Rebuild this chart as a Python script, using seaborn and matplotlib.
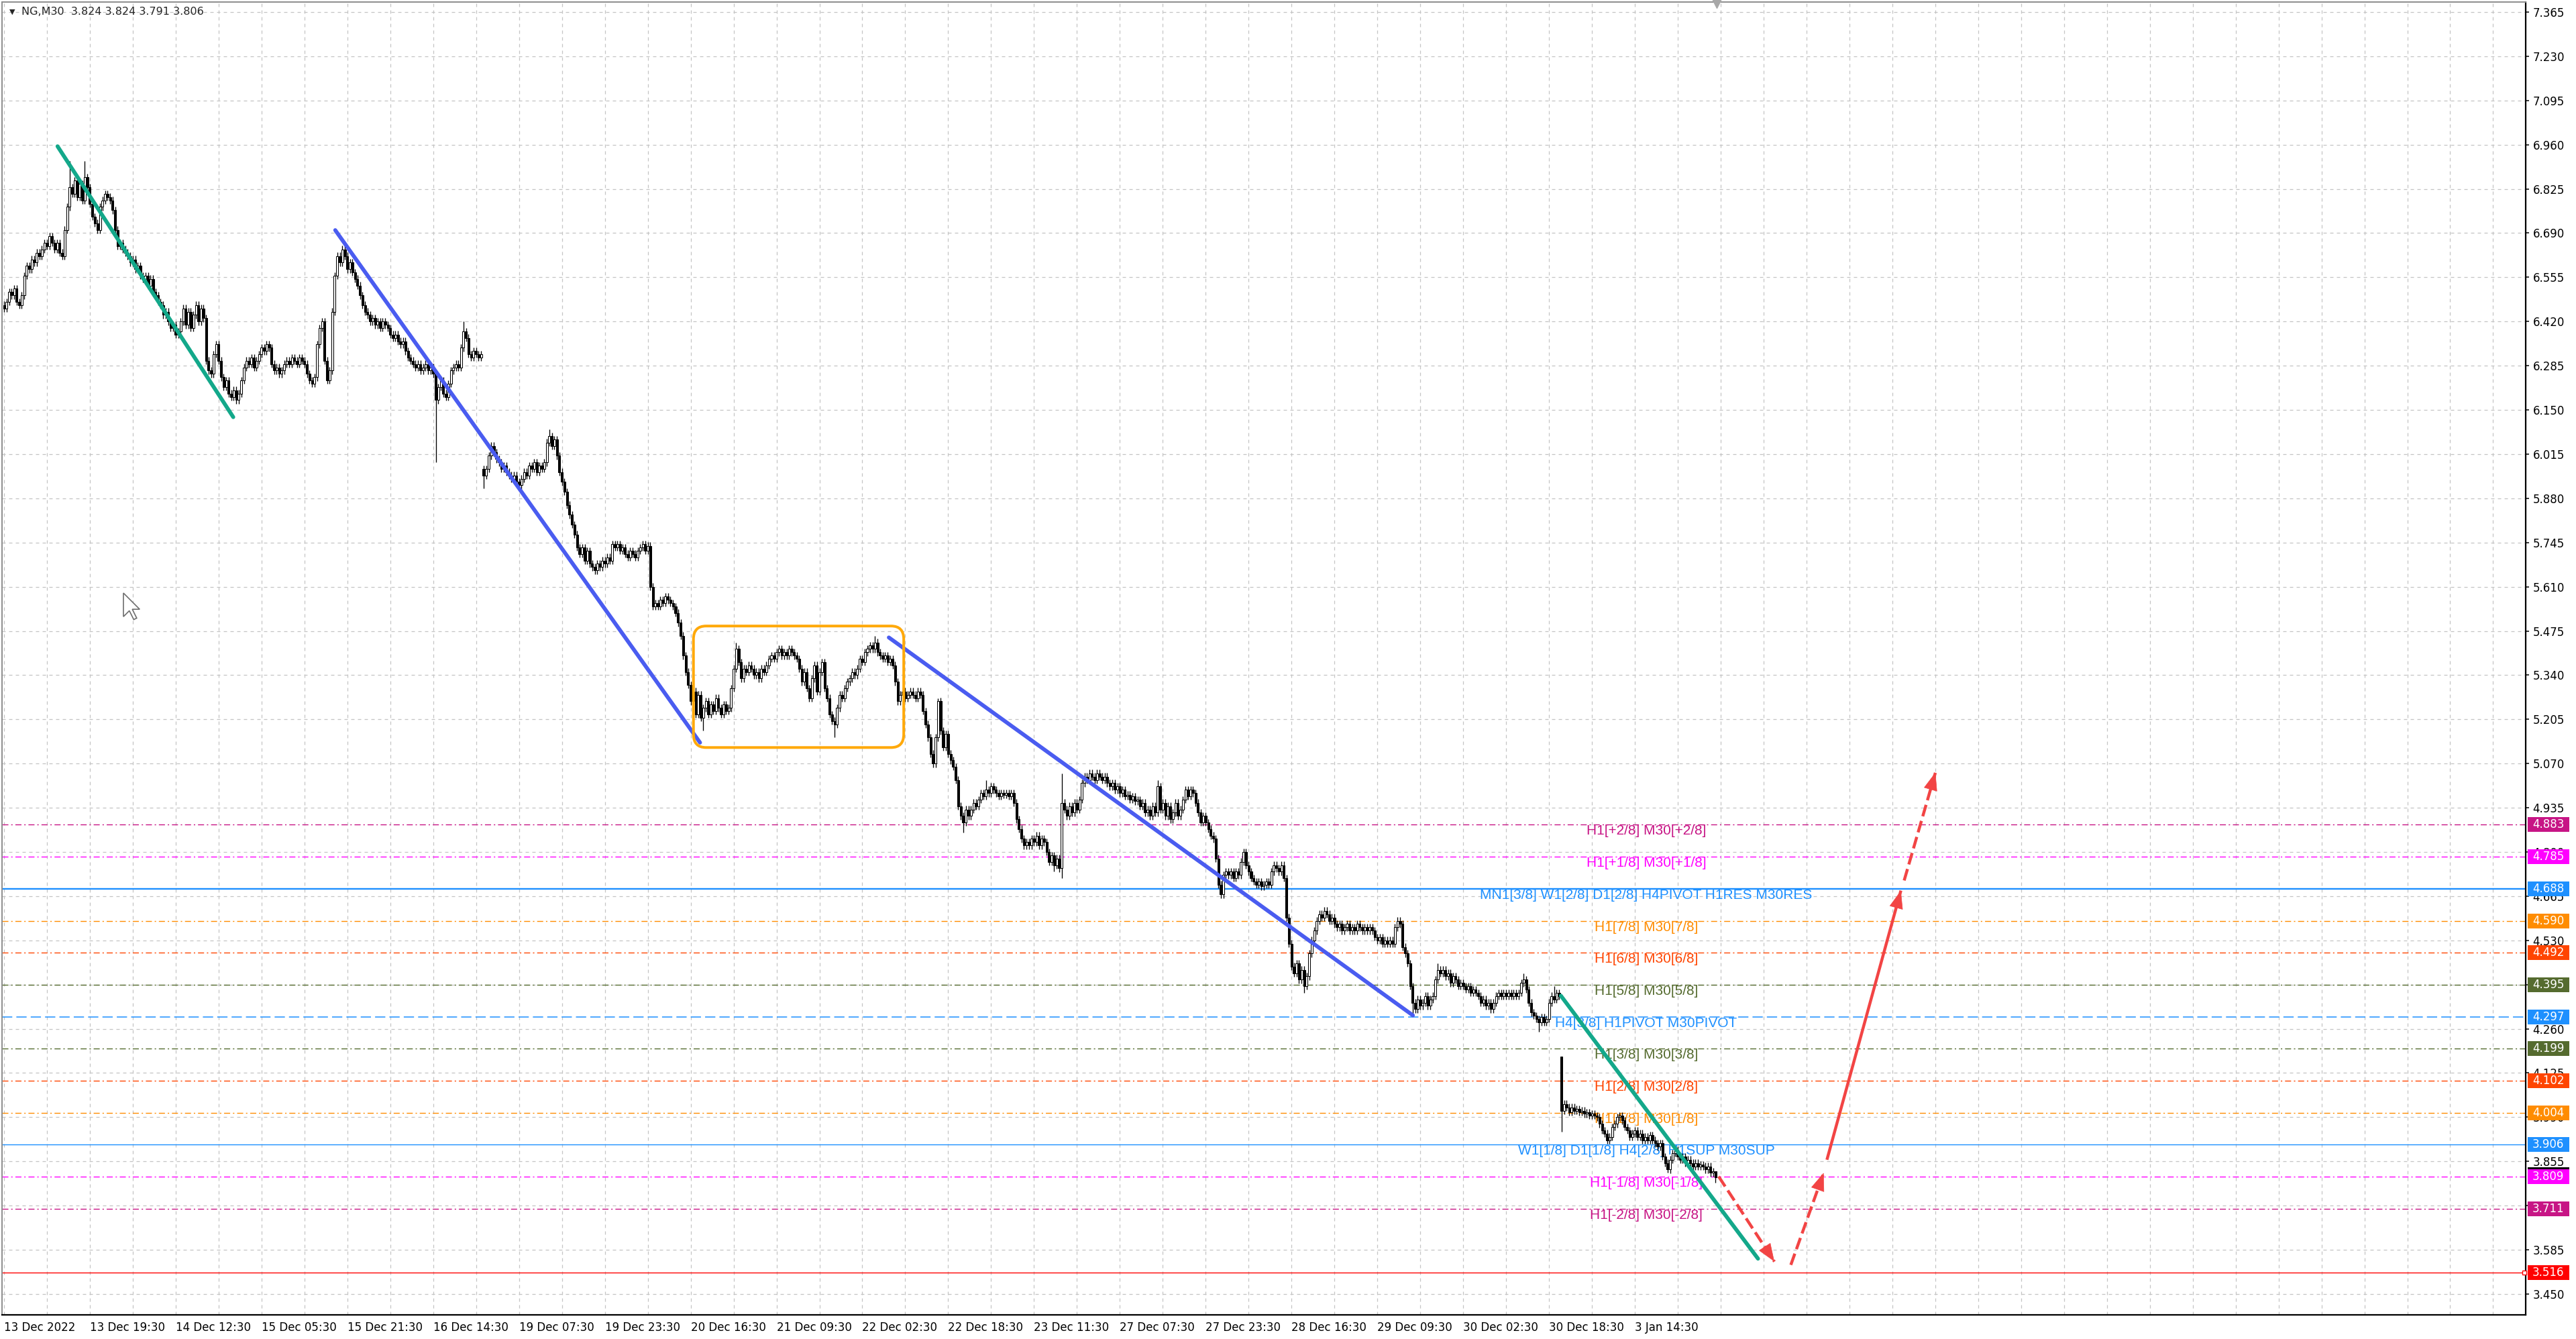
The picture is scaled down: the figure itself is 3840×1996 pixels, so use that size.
import matplotlib
matplotlib.use("Agg")
import matplotlib.pyplot as plt
import seaborn as sns
import numpy as np
import pandas as pd
from matplotlib import transforms, font_manager
from matplotlib.patches import Rectangle, FancyBboxPatch, FancyArrowPatch, Polygon

sns.set_style("white")
plt.rcParams['font.family'] = ['DejaVu Sans']

# ------------------------------------------------------------------ data
closes = [
    6.46, 6.48, 6.51, 6.50, 6.52, 6.48, 6.47, 6.50, 6.56, 6.59,   # 0
    6.58, 6.61, 6.60, 6.63, 6.62, 6.64, 6.66, 6.65, 6.68, 6.66,   # 10
    6.64, 6.66, 6.63, 6.62, 6.70, 6.77, 6.83, 6.81, 6.85, 6.80,   # 20
    6.84, 6.79, 6.86, 6.83, 6.78, 6.74, 6.72, 6.70, 6.77, 6.79,   # 30
    6.81, 6.80, 6.79, 6.76, 6.70, 6.65, 6.66, 6.64, 6.63, 6.62,   # 40
    6.60, 6.61, 6.58, 6.59, 6.56, 6.55, 6.56, 6.53, 6.55, 6.51,   # 50
    6.50, 6.48, 6.47, 6.44, 6.45, 6.42, 6.40, 6.41, 6.38, 6.39,   # 60
    6.42, 6.46, 6.41, 6.45, 6.40, 6.44, 6.47, 6.42, 6.46, 6.43,   # 70
    6.30, 6.27, 6.26, 6.32, 6.35, 6.30, 6.25, 6.22, 6.24, 6.20,   # 80
    6.19, 6.21, 6.18, 6.20, 6.24, 6.28, 6.30, 6.29, 6.31, 6.28,   # 90
    6.30, 6.32, 6.34, 6.33, 6.35, 6.34, 6.29, 6.27, 6.28, 6.26,   # 100
    6.27, 6.29, 6.30, 6.29, 6.31, 6.30, 6.29, 6.31, 6.30, 6.29,   # 110
    6.26, 6.24, 6.23, 6.25, 6.35, 6.40, 6.42, 6.30, 6.24, 6.27,   # 120
    6.45, 6.56, 6.62, 6.60, 6.64, 6.62, 6.58, 6.60, 6.57, 6.55,   # 130
    6.53, 6.50, 6.47, 6.45, 6.44, 6.42, 6.43, 6.41, 6.42, 6.40,   # 140
    6.42, 6.41, 6.40, 6.38, 6.37, 6.38, 6.36, 6.35, 6.36, 6.33,   # 150
    6.31, 6.30, 6.29, 6.28, 6.29, 6.27, 6.28, 6.29, 6.27, 6.28,   # 160
    6.26, 6.18, 6.22, 6.24, 6.20, 6.19, 6.23, 6.27, 6.28, 6.29,   # 170
    6.28, 6.34, 6.39, 6.37, 6.32, 6.31, 6.33, 6.32, 6.31, 6.32,   # 180
    5.95, 5.97, 6.01, 6.04, 6.02, 6.00, 5.99, 5.97, 5.98, 5.96,   # 190
    5.95, 5.94, 5.95, 5.93, 5.92, 5.94, 5.96, 5.95, 5.98, 5.97,   # 200
    5.99, 5.96, 5.98, 5.97, 5.99, 6.05, 6.07, 6.04, 6.06, 6.01,   # 210
    5.96, 5.93, 5.90, 5.86, 5.83, 5.80, 5.77, 5.73, 5.71, 5.73,   # 220
    5.69, 5.72, 5.68, 5.67, 5.66, 5.68, 5.67, 5.69, 5.68, 5.70,   # 230
    5.69, 5.74, 5.73, 5.74, 5.72, 5.73, 5.71, 5.70, 5.72, 5.71,   # 240
    5.70, 5.72, 5.73, 5.74, 5.72, 5.735, 5.61, 5.55, 5.56, 5.55,  # 250
    5.57, 5.56, 5.58, 5.57, 5.56, 5.55, 5.53, 5.50, 5.46, 5.40,   # 260
    5.35, 5.31, 5.26, 5.29, 5.22, 5.28, 5.21, 5.24, 5.26, 5.22,   # 270
    5.25, 5.23, 5.27, 5.24, 5.22, 5.25, 5.23, 5.24, 5.30, 5.36,   # 280
    5.42, 5.38, 5.33, 5.36, 5.35, 5.37, 5.36, 5.34, 5.35, 5.33,   # 290
    5.36, 5.35, 5.37, 5.39, 5.40, 5.39, 5.41, 5.42, 5.40, 5.41,   # 300
    5.40, 5.42, 5.41, 5.40, 5.39, 5.36, 5.32, 5.35, 5.30, 5.27,   # 310
    5.33, 5.37, 5.29, 5.35, 5.38, 5.30, 5.27, 5.22, 5.20, 5.19,   # 320
    5.24, 5.28, 5.27, 5.30, 5.32, 5.33, 5.35, 5.34, 5.36, 5.39,   # 330
    5.38, 5.41, 5.42, 5.43, 5.42, 5.44, 5.41, 5.40, 5.39, 5.40,   # 340
    5.38, 5.39, 5.37, 5.32, 5.26, 5.28, 5.29, 5.27, 5.28, 5.29,   # 350
    5.28, 5.27, 5.29, 5.28, 5.23, 5.19, 5.15, 5.10, 5.07, 5.15,   # 360
    5.26, 5.17, 5.12, 5.16, 5.10, 5.08, 5.06, 5.02, 4.94, 4.91,   # 370
    4.89, 4.93, 4.91, 4.93, 4.95, 4.94, 4.96, 4.98, 4.97, 4.99,   # 380
    4.98, 5.00, 4.99, 4.98, 4.97, 4.98, 4.975, 4.98, 4.97, 4.98,  # 390
    4.95, 4.90, 4.87, 4.84, 4.82, 4.83, 4.82, 4.84, 4.83, 4.85,   # 400
    4.82, 4.84, 4.83, 4.80, 4.77, 4.79, 4.76, 4.78, 4.75, 4.95,   # 410
    4.93, 4.91, 4.94, 4.92, 4.95, 4.93, 4.96, 5.01, 5.03, 5.02,   # 420
    5.04, 5.03, 5.02, 5.04, 5.03, 5.02, 5.03, 5.01, 5.00, 5.01,   # 430
    4.99, 5.00, 4.98, 4.99, 4.97, 4.975, 4.96, 4.97, 4.955, 4.96, # 440
    4.94, 4.95, 4.92, 4.93, 4.91, 4.94, 4.92, 5.00, 4.93, 4.95,   # 450
    4.91, 4.94, 4.90, 4.92, 4.95, 4.91, 4.93, 4.96, 4.99, 4.97,   # 460
    4.99, 4.98, 4.95, 4.92, 4.89, 4.91, 4.89, 4.87, 4.85, 4.84,   # 470
    4.78, 4.70, 4.67, 4.73, 4.74, 4.73, 4.74, 4.72, 4.74, 4.73,   # 480
    4.77, 4.80, 4.76, 4.74, 4.72, 4.71, 4.70, 4.71, 4.695, 4.70,  # 490
    4.71, 4.70, 4.74, 4.76, 4.75, 4.74, 4.76, 4.72, 4.60, 4.52,   # 500
    4.45, 4.43, 4.46, 4.41, 4.44, 4.39, 4.42, 4.49, 4.53, 4.56,   # 510
    4.59, 4.61, 4.60, 4.62, 4.61, 4.59, 4.60, 4.58, 4.57, 4.58,   # 520
    4.56, 4.57, 4.58, 4.56, 4.57, 4.56, 4.58, 4.57, 4.56, 4.57,   # 530
    4.56, 4.57, 4.56, 4.54, 4.53, 4.54, 4.52, 4.53, 4.52, 4.53,   # 540
    4.52, 4.57, 4.59, 4.58, 4.51, 4.49, 4.46, 4.39, 4.34, 4.32,   # 550
    4.35, 4.33, 4.34, 4.36, 4.33, 4.35, 4.36, 4.41, 4.44, 4.43,   # 560
    4.44, 4.42, 4.43, 4.40, 4.42, 4.41, 4.39, 4.40, 4.39, 4.38,   # 570
    4.39, 4.37, 4.38, 4.37, 4.36, 4.34, 4.35, 4.33, 4.34, 4.32,   # 580
    4.34, 4.36, 4.37, 4.36, 4.37, 4.36, 4.37, 4.36, 4.37, 4.36,   # 590
    4.37, 4.40, 4.41, 4.38, 4.34, 4.31, 4.30, 4.29, 4.28, 4.295,  # 600
    4.28, 4.29, 4.34, 4.36, 4.35, 4.37, 4.36, 4.01, 4.03, 4.02,   # 610
    4.006, 4.02, 4.01, 4.015, 4.005, 4.01, 4.00, 4.005, 3.995, 4.00,  # 620
    3.995, 3.99, 3.97, 3.95, 3.94, 3.92, 3.93, 3.96, 3.97, 3.99,  # 630
    3.995, 3.98, 3.96, 3.95, 3.93, 3.94, 3.95, 3.93, 3.94, 3.92,  # 640
    3.93, 3.92, 3.935, 3.92, 3.91, 3.90, 3.91, 3.87, 3.85, 3.83,  # 650
    3.86, 3.88, 3.89, 3.87, 3.86, 3.87, 3.85, 3.86, 3.85, 3.84,   # 660
    3.85, 3.84, 3.845, 3.84, 3.83, 3.84, 3.82, 3.824, 3.806,      # 670
]
open_overrides = {0: 6.47, 190: 5.97, 617: 4.175}
high_marks = {26: 6.91, 32: 6.91, 182: 6.42, 216: 6.09, 290: 5.44, 345: 5.46,
              370: 5.27, 389: 5.02, 419: 5.04, 457: 5.02, 568: 4.46, 602: 4.43,
              614: 4.39, 617: 4.175, 678: 3.824}
low_marks = {171: 5.99, 190: 5.91, 273: 5.21, 277: 5.17, 329: 5.15, 380: 4.86,
             416: 4.74, 419: 4.72, 515: 4.37, 558: 4.30, 608: 4.25, 617: 3.946,
             659: 3.82, 678: 3.791}

price_ticks = [7.365, 7.230, 7.095, 6.960, 6.825, 6.690, 6.555, 6.420, 6.285,
               6.150, 6.015, 5.880, 5.745, 5.610, 5.475, 5.340, 5.205, 5.070,
               4.935, 4.800, 4.665, 4.530, 4.395, 4.260, 4.125, 3.990, 3.855,
               3.720, 3.585, 3.450]
time_labels = ["13 Dec 2022", "13 Dec 19:30", "14 Dec 12:30", "15 Dec 05:30",
               "15 Dec 21:30", "16 Dec 14:30", "19 Dec 07:30", "19 Dec 23:30",
               "20 Dec 16:30", "21 Dec 09:30", "22 Dec 02:30", "22 Dec 18:30",
               "23 Dec 11:30", "27 Dec 07:30", "27 Dec 23:30", "28 Dec 16:30",
               "29 Dec 09:30", "30 Dec 02:30", "30 Dec 18:30", "3 Jan 14:30"]
time_label_bars = [0, 34, 68, 102, 136, 170, 204, 238, 272, 306, 340, 374,
                   408, 442, 476, 510, 544, 578, 612, 646]

levels = [4.883, 4.785, 4.688, 4.590, 4.492, 4.395, 4.297, 4.199, 4.102,
          4.004, 3.906, 3.809, 3.711]
level_names = ["H1[+2/8] M30[+2/8]", "H1[+1/8] M30[+1/8]",
               "MN1[3/8] W1[2/8] D1[2/8] H4PIVOT H1RES M30RES",
               "H1[7/8] M30[7/8]", "H1[6/8] M30[6/8]", "H1[5/8] M30[5/8]",
               "H4[3/8] H1PIVOT M30PIVOT", "H1[3/8] M30[3/8]",
               "H1[2/8] M30[2/8]", "H1[1/8] M30[1/8]",
               "W1[1/8] D1[1/8] H4[2/8] H1SUP M30SUP",
               "H1[-1/8] M30[-1/8]", "H1[-2/8] M30[-2/8]"]
level_colors = ["#C71585", "#FF00FF", "#1E90FF", "#FF8C00", "#FF4500",
                "#556B2F", "#1E90FF", "#556B2F", "#FF4500", "#FF8C00",
                "#1E90FF", "#FF00FF", "#C71585"]
level_kinds = ["dashdot", "dashdot", "thick", "dashdot", "dashdot", "dashdot",
               "dashed", "dashdot", "dashdot", "dashdot", "thin", "dashdot",
               "dashdot"]
stop_level = 3.516
label_anchor_bar = 650.5

green_line_1 = ([21.2, 90.8], [6.955, 6.128])
blue_line_1 = ([131.2, 275.7], [6.699, 5.134])
blue_line_2 = ([350.5, 558.1], [5.455, 4.301])
green_line_2 = ([616.7, 694.8], [4.361, 3.558])
range_box = (273.1, 5.119, 356.4, 5.490)
forecast = [  # (x0, y0, x1, y1, dashed)
    (679.2, 3.809, 701.3, 3.549, True),
    (707.8, 3.539, 720.8, 3.820, True),
    (722.1, 3.860, 751.4, 4.682, False),
    (752.7, 4.713, 765.1, 5.043, True),
]
header = "NG,M30  3.824 3.824 3.791 3.806"

# ------------------------------------------------------------------ figure
W, H = 3840, 1996
fig = plt.figure(figsize=(W / 100, H / 100), dpi=100)
fig.patch.set_facecolor("white")
ax = fig.add_axes([3 / W, 36 / H, 3762 / W, 1957 / H])
ax.set_facecolor("white")
XMIN, XMAX = -0.8, 998.9
YMIN, YMAX = 3.3864, 7.3957
ax.set_xlim(XMIN, XMAX)
ax.set_ylim(YMIN, YMAX)

avail = {f.name for f in font_manager.fontManager.ttflist}
if "Liberation Sans Narrow" in avail:
    lvl_font, lvl_size = "Liberation Sans Narrow", 17.5
else:
    lvl_font, lvl_size = "Liberation Sans", 15

# grid
grid_kw = dict(color="#C4C4C4", lw=0.9, linestyle=(0, (4, 4)), zorder=0.5)
for p in price_ticks:
    ax.axhline(p, **grid_kw)
for gx in np.arange(0, XMAX, 17):
    ax.axvline(gx, **grid_kw)

# level lines
dd = (0, (6.5, 3, 1.5, 3))
for lv, nm, col, kind in zip(levels, level_names, level_colors, level_kinds):
    if kind == "dashdot":
        ax.axhline(lv, color=col, lw=1.0, linestyle=dd, zorder=1)
    elif kind == "dashed":
        ax.axhline(lv, color=col, lw=1.1, linestyle=(0, (10, 4)), zorder=1)
    elif kind == "thick":
        ax.axhline(lv, color=col, lw=1.7, zorder=1)
    else:
        ax.axhline(lv, color=col, lw=1.0, zorder=1)
    ax.text(label_anchor_bar, lv, nm, color=col, ha="center", va="top",
            fontsize=lvl_size, family=[lvl_font, "DejaVu Sans"], zorder=1.5)
ax.axhline(stop_level, color="#FF0000", lw=1.0, zorder=1)
ax.plot([XMAX - 0.6], [stop_level], marker="s", ms=4, mfc="white", mec="red",
        mew=1, clip_on=False, zorder=6)

# candles
c = np.array(closes, dtype=float)
n = len(c)
o = np.concatenate([[c[0]], c[:-1]])
for k, v in open_overrides.items():
    o[k] = v
stub = 0.011
hi = np.maximum(o, c) + stub
lo = np.minimum(o, c) - stub
for k, v in high_marks.items():
    hi[k] = v
for k, v in low_marks.items():
    lo[k] = v
df = pd.DataFrame({"bar": np.arange(n), "open": o, "high": hi, "low": lo, "close": c})
ax.vlines(df["bar"], df["low"], df["high"], color="black", lw=0.95, zorder=3)
body_lo = np.minimum(df["open"], df["close"])
body_h = np.maximum(np.abs(df["close"] - df["open"]), 0.0015)
bull = df["close"] >= df["open"]
ax.bar(df["bar"][bull], body_h[bull], bottom=body_lo[bull], width=0.8,
       color="white", edgecolor="black", lw=0.75, zorder=3.2)
ax.bar(df["bar"][~bull], body_h[~bull], bottom=body_lo[~bull], width=0.8,
       color="black", edgecolor="black", lw=0.75, zorder=3.2)

# trend lines
for (xs, ys), col in [(green_line_1, "#13A88A"), (blue_line_1, "#4A5CF0"),
                      (blue_line_2, "#4A5CF0"), (green_line_2, "#13A88A")]:
    sns.lineplot(x=xs, y=ys, ax=ax, color=col, lw=4.2, sort=False,
                 legend=False, zorder=4, solid_capstyle="round")

# range box
bx0, by0, bx1, by1 = range_box
box = FancyBboxPatch((bx0, by0), bx1 - bx0, by1 - by0,
                     boxstyle="round,pad=0,rounding_size=5.0",
                     mutation_aspect=0.0081, fill=False, ec="#FFA90A",
                     lw=2.9, zorder=4)
ax.add_patch(box)

# forecast arrows
red = "#F24444"
for x0, y0, x1, y1, dashed in forecast:
    ls = (0, (4, 1.6)) if dashed else "-"
    ax.plot([x0, x1], [y0, y1], color=red, lw=3.2, linestyle=ls, zorder=5,
            solid_capstyle="butt", dash_capstyle="butt")
    bxp = x1 - 0.02 * (x1 - x0)
    byp = y1 - 0.02 * (y1 - y0)
    head = FancyArrowPatch((bxp, byp), (x1, y1),
                           arrowstyle="-|>,head_length=1.3,head_width=0.5",
                           mutation_scale=14, color=red, lw=0.5,
                           shrinkA=0, shrinkB=0, zorder=5.5)
    ax.add_patch(head)

# axes frame
for s in ["left", "top"]:
    ax.spines[s].set_color("#8C8C8C")
    ax.spines[s].set_linewidth(1.4)
for s in ["right", "bottom"]:
    ax.spines[s].set_color("black")
    ax.spines[s].set_linewidth(1.6)

ax.yaxis.tick_right()
ax.set_yticks(price_ticks)
ax.set_yticklabels(["%.3f" % p for p in price_ticks])
ax.tick_params(axis="y", direction="out", length=3.5, width=1.1, pad=4,
               labelsize=12, colors="black")
ax.set_xticks(time_label_bars)
ax.set_xticklabels(time_labels)
ax.tick_params(axis="x", direction="out", length=4, width=1.1, pad=3,
               labelsize=12, colors="black")
for t in ax.get_xticklabels():
    t.set_ha("left")
ax.set_xlabel("")
ax.set_ylabel("")

# price tags on the right scale
blend = transforms.blended_transform_factory(fig.transFigure, ax.transData)
tag_h = 22 / 488.1
tag_x0, tag_w = 3768 / W, 62 / W


def tag(price, col, text, yc=None):
    yc = price if yc is None else yc
    ax.add_patch(Rectangle((tag_x0, yc - tag_h / 2), tag_w, tag_h,
                           transform=blend, facecolor=col, edgecolor="none",
                           clip_on=False, zorder=10))
    if text:
        ax.text(3775 / W, yc, text, transform=blend, color="white",
                fontsize=12, va="center", ha="left", clip_on=False, zorder=11)


tag(3.806, "black", "", yc=3.815)
for lv, col in zip(levels, level_colors):
    tag(lv, col, "%.3f" % lv)
tag(stop_level, "#FF0000", "%.3f" % stop_level)

# chart-shift marker and header
ax.plot([678.5], [YMAX - 0.004], marker="v", ms=10, color="#A8A8A8",
        clip_on=False, zorder=6)
fig.text(14 / W, 1 - 18 / H, "\u25BC", fontsize=8, va="center", ha="left")
fig.text(32 / W, 1 - 18 / H, header, fontsize=11.5, va="center", ha="left")

# mouse pointer
cur = np.array([(0, 0), (0, 16), (4, 12), (7, 18), (9, 17), (6, 11), (11, 11)])
cur_px = np.column_stack([184 + cur[:, 0] * 2.2, 884 + cur[:, 1] * 2.2])
cur_fig = np.column_stack([cur_px[:, 0] / W, 1 - cur_px[:, 1] / H])
fig.patches.append(Polygon(cur_fig, closed=True, transform=fig.transFigure,
                           facecolor="white", edgecolor="#6E6E6E", lw=1.2,
                           zorder=12))

fig.savefig("out.png", dpi=100, facecolor="white")
